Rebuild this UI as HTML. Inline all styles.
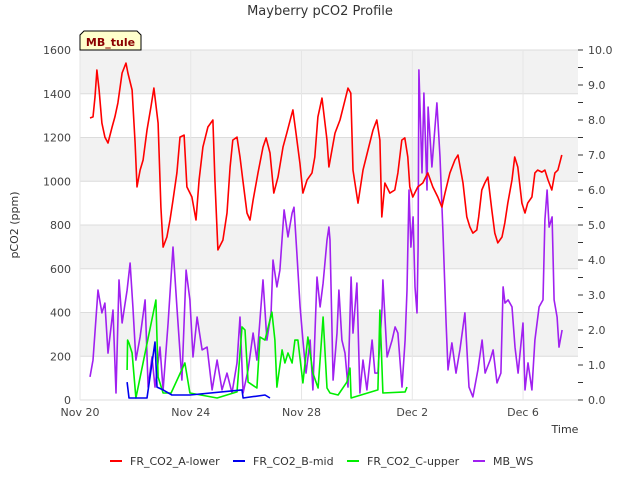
<!DOCTYPE html>
<html><head><meta charset="utf-8"><style>
body{margin:0;background:#fff;}
svg text{font-family:"DejaVu Sans","Liberation Sans",sans-serif;}
</style></head><body>
<svg id="c" width="640" height="480" xmlns="http://www.w3.org/2000/svg">
<text x="320" y="15" text-anchor="middle" font-size="13" fill="#333">Mayberry pCO2 Profile</text>
<g id="bands"></g><g id="grid"></g><g id="axes"></g><g id="series"></g>
<g>
<path d="M80,50 L80,35 L84,31 L137,31 L141,35 L141,50 Z" fill="#ffffcc" stroke="#000" stroke-width="1"/>
<text x="110.5" y="46" text-anchor="middle" font-size="11" font-weight="bold" fill="#8b0000">MB_tule</text>
</g>
<text transform="translate(18,225) rotate(-90)" text-anchor="middle" font-size="11" fill="#333">pCO2 (ppm)</text>
<text x="565" y="433" text-anchor="middle" font-size="11" fill="#333">Time</text>
<g id="legend"></g>
</svg>
<script>
const xTickLabels=["Nov 20","Nov 24","Nov 28","Dec 2","Dec 6"];
const xTickDays=[0,4,8,12,16];
const yLeftTicks=[0,200,400,600,800,1000,1200,1400,1600];
const yRightTicks=[0,1,2,3,4,5,6,7,8,9,10];
const seriesNames=["FR_CO2_A-lower","FR_CO2_B-mid","FR_CO2_C-upper","MB_WS"];
const seriesColors=["#ff0000","#0000ee","#00ee00","#a020f0"];
const redDays=[0.36,0.47,0.54,0.61,0.69,0.79,0.90,1.01,1.16,1.26,1.37,1.52,1.66,1.73,1.88,1.99,2.06,2.17,2.28,2.42,2.56,2.67,2.82,2.92,3.00,3.14,3.25,3.36,3.50,3.61,3.76,3.86,4.04,4.19,4.30,4.44,4.62,4.80,4.87,4.98,5.16,5.31,5.42,5.52,5.67,5.78,5.88,6.03,6.14,6.25,6.43,6.61,6.72,6.86,7.00,7.15,7.33,7.47,7.62,7.69,7.80,7.94,8.05,8.20,8.38,8.48,8.59,8.74,8.92,8.99,9.21,9.39,9.57,9.68,9.78,9.86,10.04,10.22,10.40,10.58,10.72,10.83,10.90,11.01,11.19,11.37,11.48,11.62,11.73,11.84,11.91,12.02,12.20,12.38,12.56,12.74,12.92,13.07,13.18,13.36,13.54,13.65,13.83,13.97,14.08,14.19,14.33,14.40,14.51,14.62,14.73,14.87,14.98,15.09,15.24,15.34,15.45,15.60,15.70,15.81,15.96,16.07,16.17,16.32,16.43,16.53,16.68,16.79,16.90,17.04,17.15,17.26,17.40];
const redVals=[1289,1294,1385,1508,1417,1266,1202,1175,1248,1294,1358,1495,1540,1495,1417,1175,974,1051,1097,1234,1339,1426,1266,882,699,745,823,914,1038,1202,1211,974,928,823,1006,1156,1248,1280,1006,686,731,855,1065,1188,1202,1111,1006,855,823,914,1038,1156,1198,1129,946,1019,1156,1220,1294,1326,1220,1083,946,1006,1038,1111,1294,1380,1188,1065,1220,1280,1371,1426,1403,1051,900,1051,1143,1234,1280,1188,837,992,946,960,1038,1188,1198,1111,974,928,974,992,1038,974,928,882,946,1038,1097,1120,992,837,791,763,777,837,960,992,1019,869,763,718,745,809,900,1006,1111,1065,900,855,900,928,1038,1051,1042,1051,1006,960,1038,1051,1120];
const blueDays=[1.70,1.77,2.42,2.71,2.78,3.00,3.32,3.97,5.85,5.89,6.68,6.86];
const blueVals=[82,9,9,265,59,46,23,23,46,9,23,9];
const greenDays=[1.70,1.72,1.77,1.88,2.02,2.74,2.82,3.00,3.29,3.79,3.97,4.95,5.67,5.85,5.96,6.07,6.39,6.50,6.68,6.93,7.04,7.11,7.30,7.40,7.51,7.66,7.76,7.87,8.05,8.23,8.41,8.60,8.78,8.92,9.03,9.32,9.64,9.75,9.79,10.76,10.83,10.94,11.74,11.81];
const greenVals=[137,274,260,215,9,457,105,32,32,169,32,9,37,334,320,82,55,288,274,402,274,59,229,169,215,169,274,274,78,288,123,55,379,55,32,23,82,146,9,46,411,32,37,59];
const wsDays=[0.36,0.47,0.65,0.79,0.90,1.01,1.19,1.30,1.41,1.52,1.70,1.81,1.91,2.02,2.17,2.35,2.46,2.60,2.71,2.89,3.00,3.18,3.36,3.50,3.68,3.83,3.97,4.08,4.23,4.41,4.59,4.77,4.95,5.13,5.31,5.49,5.67,5.78,5.89,6.07,6.25,6.39,6.61,6.75,6.90,6.97,7.11,7.22,7.37,7.51,7.66,7.73,7.84,7.95,8.05,8.16,8.31,8.41,8.56,8.67,8.78,8.92,8.99,9.03,9.14,9.28,9.35,9.46,9.57,9.68,9.79,9.86,10.00,10.11,10.22,10.36,10.55,10.65,10.76,10.91,10.94,11.09,11.27,11.38,11.48,11.63,11.74,11.81,11.88,11.95,12.03,12.10,12.17,12.21,12.24,12.35,12.42,12.53,12.57,12.71,12.82,12.89,13.00,13.11,13.22,13.29,13.43,13.58,13.72,13.90,14.05,14.19,14.37,14.52,14.63,14.81,14.92,15.06,15.20,15.28,15.35,15.46,15.60,15.71,15.82,16.00,16.07,16.18,16.32,16.43,16.58,16.72,16.79,16.87,16.94,17.05,17.12,17.23,17.30,17.41];
const wsVals=[0.66,1.14,3.14,2.49,2.77,1.34,2.57,0.2,3.43,2.2,3.14,3.91,2.66,1.14,1.8,2.86,0.37,1.23,0.37,1.51,0.29,2.2,4.37,2.66,0.57,3.71,2.86,1.23,2.37,1.43,1.51,0.29,1.14,0.29,0.77,0.2,1.06,2.37,0.2,0.86,1.91,1.14,3.43,1.71,2.49,4.0,3.23,3.71,5.43,4.66,5.34,5.51,4.09,2.66,1.71,0.77,1.71,0.29,3.51,2.66,3.34,4.57,4.94,4.57,0.57,1.91,3.14,1.71,1.34,0.37,3.51,1.91,3.34,0.2,1.14,0.29,1.71,0.77,0.77,2.66,3.43,1.23,1.71,2.09,1.91,0.37,1.71,3.14,6.0,4.37,5.23,3.23,2.49,4.37,9.43,6.49,8.77,6.0,8.37,6.66,7.8,8.49,6.94,4.77,2.2,0.86,1.63,0.77,1.43,2.49,0.37,0.09,0.86,1.71,0.77,1.14,1.43,0.49,0.77,3.23,2.77,2.86,2.66,1.51,0.77,2.2,0.29,1.06,0.29,1.71,2.66,2.86,5.14,6.0,4.94,5.23,2.86,2.37,1.51,2.0];

const NS="http://www.w3.org/2000/svg";
const L=80,R=578,T=50,B=400;
const xS=d=>L+d*27.69;
const yL=v=>B-v*(B-T)/1600;
const yR=v=>B-v*(B-T)/10;
function mk(tag,attrs,parent,txt){const e=document.createElementNS(NS,tag);for(const k in attrs)e.setAttribute(k,attrs[k]);if(txt!==undefined)e.textContent=txt;parent.appendChild(e);return e;}
const bands=document.getElementById('bands'),grid=document.getElementById('grid'),axes=document.getElementById('axes'),ser=document.getElementById('series'),leg=document.getElementById('legend');
mk('rect',{x:L,y:T,width:R-L,height:B-T,fill:'#fff'},bands);
for(let i=0;i<yLeftTicks.length-1;i++){
  if(i%2===1){const b=mk('rect',{x:L,y:yL(yLeftTicks[i+1]),width:R-L,height:yL(yLeftTicks[i])-yL(yLeftTicks[i+1]),fill:'#f2f2f2'},bands);
  
  }
}
yLeftTicks.forEach(v=>{
  const g=mk('line',{x1:L,x2:R,y1:yL(v),y2:yL(v),stroke:'#dcdcdc','stroke-width':1},grid);
  
  
  const t=mk('text',{x:L-9,y:yL(v)+4,'text-anchor':'end','font-size':11,fill:'#444'},axes,String(v));
  
  
});
xTickDays.forEach((d,i)=>{
  mk('line',{x1:xS(d),x2:xS(d),y1:T,y2:B,stroke:'#e6e6e6','stroke-width':1},grid);
  const t=mk('text',{x:xS(d),y:B+16,'text-anchor':'middle','font-size':11,fill:'#444'},axes,xTickLabels[i]);
  
  
});
yRightTicks.forEach(v=>{
  mk('line',{x1:R,x2:R+5,y1:yR(v),y2:yR(v),stroke:'#333'},axes);
  if(v<10)mk('line',{x1:R,x2:R+5,y1:yR(v+0.5),y2:yR(v+0.5),stroke:'#333'},axes);
  const t=mk('text',{x:R+10,y:yR(v)+4,'font-size':11,fill:'#444'},axes,v.toFixed(1));
  
  
});
function line(days,vals,ys,color,name){
  const p=mk('polyline',{points:days.map((d,i)=>xS(d).toFixed(1)+','+ys(vals[i]).toFixed(1)).join(' '),fill:'none',stroke:color,'stroke-width':1.6,'stroke-linejoin':'round'},ser);
  
  
}
line(wsDays,wsVals,yR,seriesColors[3],'series-mb-ws');
line(greenDays,greenVals,yL,seriesColors[2],'series-fr-co2-c-upper');
line(blueDays,blueVals,yL,seriesColors[1],'series-fr-co2-b-mid');
line(redDays,redVals,yL,seriesColors[0],'series-fr-co2-a-lower');
const legX=[110,233,347,473];
seriesNames.forEach((n,i)=>{
  const g=mk('g',{},leg);
  
  
  mk('line',{x1:legX[i],x2:legX[i]+12,y1:461,y2:461,stroke:seriesColors[i],'stroke-width':2},g);
  mk('text',{x:legX[i]+20,y:465,'font-size':11,fill:'#333'},g,n);
});
</script>
</body></html>
